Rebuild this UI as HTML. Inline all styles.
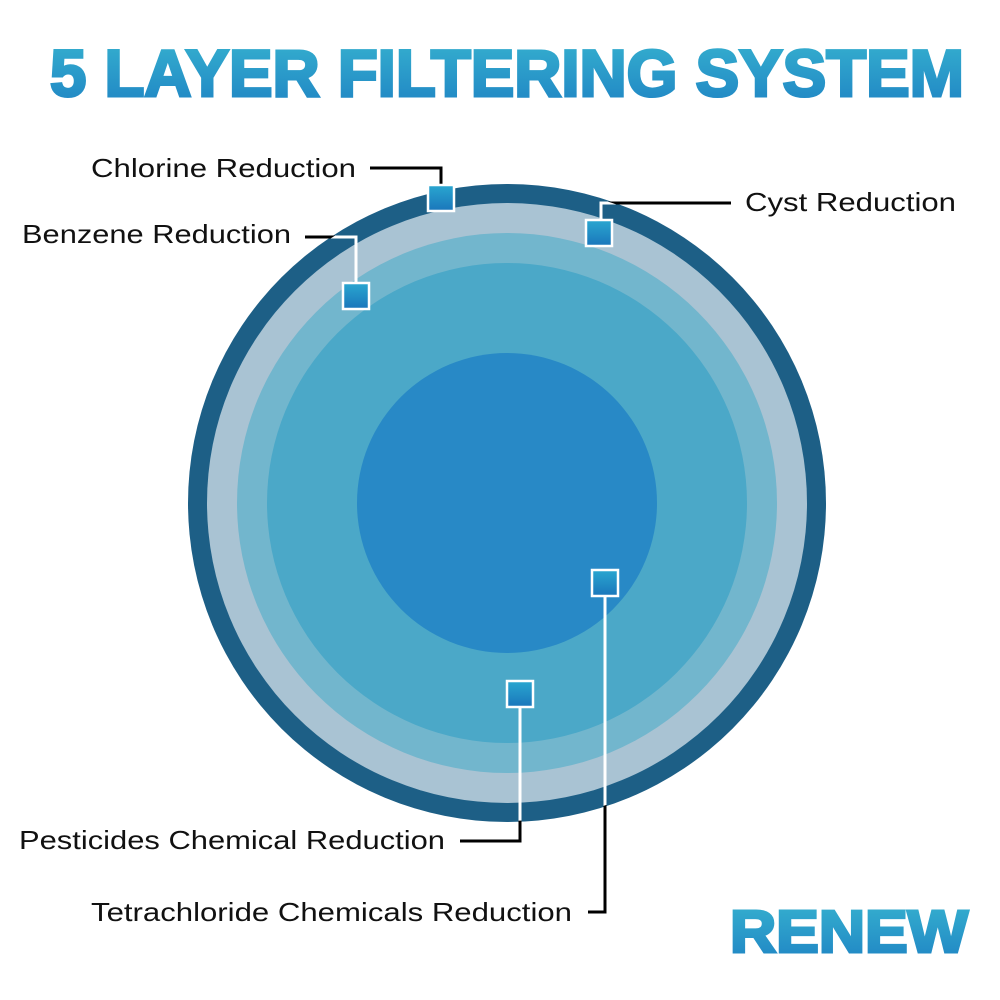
<!DOCTYPE html>
<html><head><meta charset="utf-8"><style>html,body{margin:0;padding:0;background:#fff}svg{display:block}</style></head>
<body>
<svg width="1000" height="1000" viewBox="0 0 1000 1000" xmlns="http://www.w3.org/2000/svg">
<defs>
<linearGradient id="tg" x1="0" y1="0" x2="0" y2="1"><stop offset="0" stop-color="#36b1cf"/><stop offset="1" stop-color="#1f84c4"/></linearGradient>
<linearGradient id="sq" x1="0" y1="0" x2="0" y2="1"><stop offset="0" stop-color="#2aa7d0"/><stop offset="1" stop-color="#1a76bb"/></linearGradient>
<clipPath id="cc"><circle cx="507" cy="503" r="318"/></clipPath>
</defs>
<text x="50" y="96" font-family="Liberation Sans, sans-serif" font-weight="bold" font-size="66" fill="url(#tg)" stroke="url(#tg)" stroke-width="3" textLength="914" lengthAdjust="spacingAndGlyphs">5 LAYER FILTERING SYSTEM</text>
<circle cx="507" cy="503" r="319" fill="#1d5f86"/>
<circle cx="507" cy="503" r="300" fill="#a9c3d3"/>
<circle cx="507" cy="503" r="270" fill="#72b6cd"/>
<circle cx="507" cy="503" r="240" fill="#4ba8c8"/>
<circle cx="507" cy="503" r="150" fill="#2889c6"/>
<g fill="none" stroke="#000" stroke-width="3">
<polyline points="370,168 441,168 441,185"/>
<polyline points="731,203 601,203 601,220"/>
<polyline points="305,237 356,237 356,283"/>
<polyline points="605,596 605,912 588,912"/>
<polyline points="520,707 520,841 460,841"/>
</g>
<g fill="none" stroke="#fff" stroke-width="3" clip-path="url(#cc)">
<polyline points="370,168 441,168 441,185"/>
<polyline points="731,203 601,203 601,220"/>
<polyline points="305,237 356,237 356,283"/>
<polyline points="605,596 605,912 588,912"/>
<polyline points="520,707 520,841 460,841"/>
</g>
<g fill="url(#sq)" stroke="#fff" stroke-width="2.5">
<rect x="428" y="185" width="26" height="26"/>
<rect x="586" y="220" width="26" height="26"/>
<rect x="343" y="283" width="26" height="26"/>
<rect x="592" y="570" width="26" height="26"/>
<rect x="507" y="681" width="26" height="26"/>
</g>
<g font-family="Liberation Sans, sans-serif" font-size="26" fill="#111">
<text x="91" y="177" textLength="265" lengthAdjust="spacingAndGlyphs">Chlorine Reduction</text>
<text x="745" y="211" textLength="211" lengthAdjust="spacingAndGlyphs">Cyst Reduction</text>
<text x="22" y="243" textLength="269" lengthAdjust="spacingAndGlyphs">Benzene Reduction</text>
<text x="19" y="849" textLength="426" lengthAdjust="spacingAndGlyphs">Pesticides Chemical Reduction</text>
<text x="91" y="921" textLength="481" lengthAdjust="spacingAndGlyphs">Tetrachloride Chemicals Reduction</text>
</g>
<text x="730" y="952" font-family="Liberation Sans, sans-serif" font-weight="bold" font-size="59" fill="url(#tg)" stroke="url(#tg)" stroke-width="3" textLength="238" lengthAdjust="spacingAndGlyphs">RENEW</text>
</svg>
</body></html>
